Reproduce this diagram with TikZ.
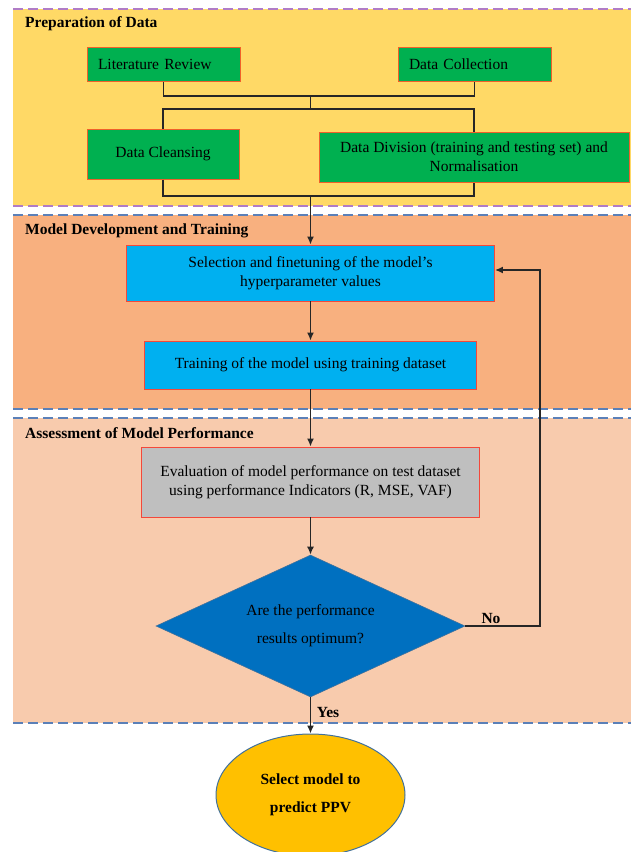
\documentclass[tikz,border=0pt]{standalone}
\usepackage{fontspec}
\setmainfont{Liberation Serif}
\usetikzlibrary{shapes.geometric,arrows.meta}
\definecolor{bandyellow}{HTML}{FFD966}
\definecolor{bandorange}{HTML}{F8B07F}
\definecolor{bandpeach}{HTML}{F8CBAD}
\definecolor{dashpurple}{HTML}{B07CC6}
\definecolor{dashblue}{HTML}{5B80B8}
\definecolor{boxgreen}{HTML}{00B050}
\definecolor{boxblue}{HTML}{00B0F0}
\definecolor{boxgrey}{HTML}{BFBFBF}
\definecolor{decblue}{HTML}{0070C0}
\definecolor{endgold}{HTML}{FFC000}
\definecolor{edgered}{HTML}{F4483A}
\definecolor{edgeorange}{HTML}{F0602A}
\definecolor{rimblue}{HTML}{41719C}
\begin{document}
\begin{tikzpicture}[x=1pt,y=-1pt,>={Latex[length=8pt,width=7pt]},
	every node/.style={font=\fontsize{15.5}{19}\selectfont,text=black,inner sep=0pt},
	band/.style={dashed,line width=1.8pt,dash pattern=on 10pt off 5pt},
	head/.style={anchor=west,font=\fontsize{15.5}{19}\selectfont\bfseries},
	greenleft/.style={draw=edgeorange,line width=1pt,fill=boxgreen,minimum height=34pt,text width=131pt,align=left,inner xsep=11pt},
	greenbox/.style={draw=edgeorange,line width=1pt,fill=boxgreen,minimum height=50pt,align=center},
	bluebox/.style={draw=edgered,line width=0.8pt,fill=boxblue,align=center},
	greybox/.style={draw=edgered,line width=0.8pt,fill=boxgrey,align=center},
	lbl/.style={font=\fontsize{15.5}{19}\selectfont\bfseries},
	flow/.style={line width=1.8pt,draw=black!85}]
	\useasboundingbox (0,0) rectangle (631,852);

	\fill[bandyellow] (13,9) rectangle (640,206);
	\fill[bandorange] (13,215) rectangle (640,409);
	\fill[bandpeach] (13,418) rectangle (640,723);
	\draw[band,dashpurple] (13,9) -- (640,9);
	\draw[band,dashpurple] (13,206) -- (640,206);
	\draw[band,dashblue] (13,215) -- (640,215);
	\draw[band,dashblue] (13,409) -- (640,409);
	\draw[band,dashblue] (13,418) -- (640,418);
	\draw[band,dashblue] (13,723) -- (640,723);

	\node[head] at (25,24) (prephead) {Preparation of Data};
	\node[head] at (25,231) (devhead) {Model Development and Training};
	\node[head] at (25,433) (assesshead) {Assessment of Model Performance};

	\node[greenleft] at (163.5,64) (litrev) {Literature Review};
	\node[greenleft] at (474.5,64) (datacoll) {Data Collection};
	\node[greenbox,minimum width=152pt] at (163,154) (cleans) {Data Cleansing};
	\node[greenbox,minimum width=310pt] at (474,157) (divide) {Data Division (training and testing set) and\\Normalisation};

	\coordinate (j1) at (310.5,96);
	\coordinate (j2) at (310.5,109);
	\coordinate (j3) at (310.5,196);

	\node[bluebox,minimum width=368pt,minimum height=56pt] at (310.5,273) (select) {Selection and finetuning of the model's\\hyperparameter values};
	\node[bluebox,minimum width=332pt,minimum height=48pt] at (310.5,365) (train) {Training of the model using training dataset};
	\node[greybox,minimum width=338pt,minimum height=70pt] at (310.5,482) (evaluate) {Evaluation of model performance on test dataset\\using performance Indicators (R, MSE, VAF)};
	\node[diamond,aspect=2.17,draw=rimblue,line width=0.6pt,fill=decblue,minimum width=309pt,minimum height=142pt,align=center] at (310.5,626) (decide) {Are the performance\\[9pt]results optimum?};
	\node[ellipse,draw=rimblue,line width=1pt,fill=endgold,minimum width=189pt,minimum height=122pt,align=center,font=\fontsize{15.5}{28}\selectfont\bfseries] at (310.5,795) (final) {Select model to\\predict PPV};

	\coordinate (fb) at (540,626);
	\node[lbl] at (491,618) (no) {No};
	\node[lbl] at (328,712) (yes) {Yes};

	\draw[flow] (litrev.south) |- (j1) -| (datacoll.south);
	\draw[flow] (j1) -- (j2);
	\draw[flow] (cleans.north) |- (j2) -| (divide.north);
	\draw[flow] (cleans.south) |- (j3) -| (divide.south);
	\draw[flow,->] (j3) -- (select.north);
	\draw[flow,->] (select) -- (train);
	\draw[flow,->] (train) -- (evaluate);
	\draw[flow,->] (evaluate) -- (decide);
	\draw[flow,->] (decide) -- (final);
	\draw[flow,->] (decide.east) -- (fb) |- ([yshift=3pt]select.east);
\end{tikzpicture}
\end{document}
